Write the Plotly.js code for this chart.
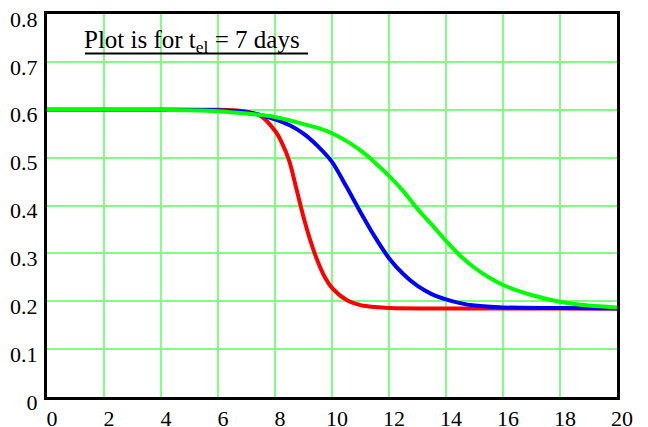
<!DOCTYPE html>
<html>
<head>
<meta charset="utf-8">
<script src="https://cdn.plot.ly/plotly-3.0.1.min.js"></script>
<style>html,body{margin:0;padding:0;background:#fff;}#chart{width:648px;height:427px;}</style>
</head>
<body>
<div id="chart"></div>
<script>
// Time (days) and values
const redX   = [0, 2, 4, 6, 6.5, 7, 7.5, 8, 8.25, 8.5, 8.75, 9, 9.25, 9.5, 9.75, 10, 10.5, 11, 11.5, 12, 14, 16, 18, 20];
const redY   = [0.6, 0.6, 0.6, 0.6, 0.599, 0.596, 0.587, 0.556, 0.53, 0.493, 0.435, 0.376, 0.325, 0.283, 0.25, 0.228, 0.203, 0.192, 0.188, 0.186, 0.185, 0.185, 0.185, 0.185];

const blueX  = [0, 2, 4, 6, 7, 7.5, 8, 8.5, 9, 9.5, 10, 10.5, 11, 11.5, 12, 12.5, 13, 13.5, 14, 14.5, 15, 16, 18, 20];
const blueY  = [0.6, 0.6, 0.6, 0.599, 0.595, 0.589, 0.58, 0.568, 0.55, 0.524, 0.491, 0.44, 0.386, 0.335, 0.29, 0.257, 0.232, 0.215, 0.204, 0.196, 0.191, 0.187, 0.186, 0.185];

const greenX = [0, 2, 4, 6, 7, 8, 8.5, 9, 9.5, 10, 10.5, 11, 11.5, 12, 12.5, 13, 13.5, 14, 14.5, 15, 15.5, 16, 17, 18, 19, 20];
const greenY = [0.6, 0.6, 0.6, 0.597, 0.592, 0.585, 0.578, 0.57, 0.562, 0.551, 0.535, 0.515, 0.49, 0.462, 0.43, 0.393, 0.36, 0.326, 0.295, 0.27, 0.25, 0.234, 0.213, 0.199, 0.191, 0.187];

const xTicks = [0, 2, 4, 6, 8, 10, 12, 14, 16, 18, 20];
const yTicks = [0, 0.1, 0.2, 0.3, 0.4, 0.5, 0.6, 0.7, 0.8];

const titleText = 'Plot is for t<sub>el</sub> = 7 days';

const font = {family: '"Liberation Serif", "Times New Roman", serif', size: 22, color: '#000'};

function trace(x, y, color) {
  return {x: x, y: y, type: 'scatter', mode: 'lines',
    line: {color: color, width: 4, shape: 'spline', smoothing: 0.8},
    hoverinfo: 'none', showlegend: false};
}

const data = [
  trace(redX, redY, '#ff0000'),
  trace(blueX, blueY, '#0000ff'),
  trace(greenX, greenY, '#00ff00')
];

const layout = {
  width: 648, height: 427,
  margin: {l: 47, r: 31, t: 14, b: 30, pad: 0},
  paper_bgcolor: '#fff', plot_bgcolor: '#fff',
  font: font,
  showlegend: false,
  xaxis: {
    range: [0, 20], tickvals: xTicks, ticktext: xTicks.map(String),
    showgrid: true, gridcolor: '#80ff80', gridwidth: 2,
    zeroline: false, showline: true, linecolor: '#000', linewidth: 3, mirror: true,
    ticks: '', ticklabelstandoff: 0, ticklabelshift: 5,
    tickfont: font, fixedrange: true
  },
  yaxis: {
    range: [0, 0.8], tickvals: yTicks, ticktext: yTicks.map(String),
    showgrid: true, gridcolor: '#80ff80', gridwidth: 2,
    zeroline: false, showline: true, linecolor: '#000', linewidth: 3, mirror: true,
    ticks: '', ticklabelstandoff: 2, ticklabelshift: 5,
    tickfont: font, fixedrange: true
  },
  annotations: [{
    xref: 'paper', yref: 'paper', x: 0.0614, y: 0.882,
    xanchor: 'left', yanchor: 'bottom', showarrow: false,
    text: titleText,
    font: {family: '"Liberation Serif", "Times New Roman", serif', size: 25, color: '#000'}
  }],
  shapes: [{
    type: 'line', xref: 'paper', yref: 'paper',
    x0: 0.0667, x1: 0.458, y0: 0.897, y1: 0.897,
    line: {color: '#000', width: 2}
  }]
};

Plotly.newPlot('chart', data, layout, {displayModeBar: false, staticPlot: true});
</script>
</body>
</html>
